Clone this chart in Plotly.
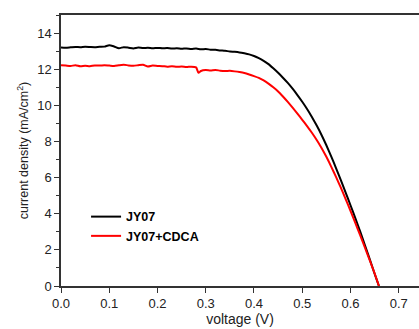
import plotly.graph_objects as go

voltage = [0.00,0.01,0.02,0.03,0.04,0.05,0.06,0.07,0.08,0.09,0.10,0.11,0.12,0.13,0.14,0.15,0.16,0.17,0.18,0.19,
           0.20,0.21,0.22,0.23,0.24,0.25,0.26,0.27,0.28,0.29,0.30,0.31,0.32,0.33,0.34,0.35,0.36,0.37,0.38,0.39,
           0.40,0.41,0.42,0.43,0.44,0.45,0.46,0.47,0.48,0.49,0.50,0.51,0.52,0.53,0.54,0.55,0.56,0.57,0.58,0.59,
           0.60,0.61,0.62,0.63,0.64,0.65,0.659]
jy07 = [13.20,13.19,13.21,13.23,13.22,13.24,13.23,13.22,13.24,13.25,13.33,13.26,13.16,13.22,13.19,13.15,13.20,13.17,13.19,13.16,
        13.18,13.16,13.17,13.14,13.16,13.13,13.15,13.12,13.14,13.10,13.12,13.08,13.07,13.04,13.02,12.98,12.96,12.93,12.88,12.82,
        12.73,12.61,12.46,12.28,12.05,11.80,11.53,11.24,10.92,10.57,10.20,9.80,9.36,8.88,8.36,7.79,7.18,6.53,5.86,5.17,
        4.47,3.76,3.02,2.25,1.47,0.68,0.0]

voltage_cdca = [0.00,0.01,0.02,0.03,0.04,0.05,0.06,0.07,0.08,0.09,0.10,0.11,0.12,0.13,0.14,0.15,0.16,0.17,0.18,0.19,
                0.20,0.21,0.22,0.23,0.24,0.25,0.26,0.27,0.28,0.285,0.29,0.30,0.31,0.32,0.33,0.34,0.35,0.36,0.37,0.38,0.39,
                0.40,0.41,0.42,0.43,0.44,0.45,0.46,0.47,0.48,0.49,0.50,0.51,0.52,0.53,0.54,0.55,0.56,0.57,0.58,0.59,
                0.60,0.61,0.62,0.63,0.64,0.65,0.659]
jy07_cdca = [12.22,12.20,12.18,12.22,12.16,12.19,12.17,12.21,12.20,12.22,12.20,12.18,12.22,12.25,12.21,12.19,12.22,12.25,12.15,12.20,
             12.18,12.17,12.14,12.16,12.13,12.15,12.12,12.14,12.10,11.80,11.90,11.95,11.93,11.96,11.92,11.90,11.91,11.88,11.84,11.79,11.71,
             11.62,11.52,11.38,11.20,11.00,10.77,10.49,10.19,9.87,9.54,9.20,8.85,8.48,8.08,7.64,7.15,6.61,6.04,5.44,4.81,
             4.16,3.49,2.81,2.12,1.42,0.70,0.0]

fig = go.Figure()
fig.add_trace(go.Scatter(x=voltage, y=jy07, mode="lines", name="<b>JY07</b>",
                         line=dict(color="black", width=2, shape="spline", smoothing=0.6)))
fig.add_trace(go.Scatter(x=voltage_cdca, y=jy07_cdca, mode="lines", name="<b>JY07+CDCA</b>",
                         line=dict(color="#ff0000", width=2, shape="spline", smoothing=0.6)))

axis_font = dict(family="Arial, Liberation Sans, sans-serif", size=13, color="#222")
fig.update_layout(
    width=419, height=329,
    margin=dict(l=61, r=0, t=15, b=43),
    paper_bgcolor="white", plot_bgcolor="white",
    font=dict(family="Arial, Liberation Sans, sans-serif", size=12, color="#222"),
    showlegend=True,
    legend=dict(x=0.07, y=0.31, xanchor="left", yanchor="top",
                bgcolor="rgba(0,0,0,0)", itemwidth=30,
                font=dict(family="Arial, Liberation Sans, sans-serif", size=12.5, color="black"),
                tracegroupgap=0),
    xaxis=dict(range=[0, 0.742], dtick=0.1, tickformat=".1f",
               showline=True, linecolor="#333", linewidth=1.5, mirror=True,
               ticks="outside", ticklen=5, tickcolor="#333",
               showgrid=False, zeroline=False,
               tickfont=axis_font,
               title=dict(text="voltage (V)", font=dict(size=14, color="#222"), standoff=3)),
    yaxis=dict(range=[0, 15], dtick=2, tick0=0,
               showline=True, linecolor="#333", linewidth=1.5,
               ticks="outside", ticklen=5, tickcolor="#333",
               minor=dict(dtick=1, ticks="outside", ticklen=3, tickcolor="#333"),
               showgrid=False, zeroline=False,
               tickfont=axis_font,
               title=dict(text="current density (mA/cm<sup>2</sup>)", font=dict(size=12.5, color="#222"), standoff=6)),
)

fig.write_html("out.html")
